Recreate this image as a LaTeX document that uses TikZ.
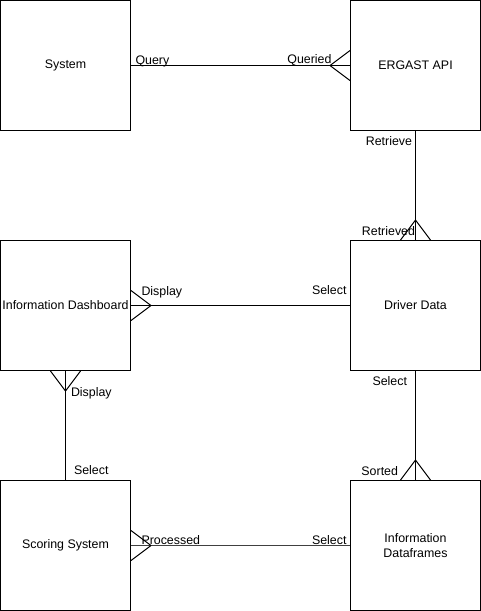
\documentclass[tikz,border=0pt]{standalone}
\usepackage{fontspec}
\setmainfont{Liberation Sans}
\usetikzlibrary{calc,positioning}

\tikzset{
    entity/.style={draw,minimum width=130pt,minimum height=130pt,inner sep=0pt,align=center,font=\fontsize{12.4}{14.5}\selectfont},
    lbl/.style={font=\fontsize{12.4}{14.5}\selectfont,inner sep=1pt},
    rel/.style={line width=1pt}
}

\begin{document}
\begin{tikzpicture}[x=1pt,y=-1pt,line width=1pt]
    \useasboundingbox (0,0) rectangle (481,611);
    \node[entity] (sys) at (65.5,65.5) {System};
    \node[entity] (api) at (415.5,65.5) {ERGAST API};
    \node[entity] (dash) at (65.5,305.5) {Information Dashboard};
    \node[entity] (drv) at (415.5,305.5) {Driver Data};
    \node[entity] (score) at (65.5,545.5) {Scoring System};
    \node[entity] (frames) at (415.5,545.5) {Information\\Dataframes};
    % relations
    \draw[rel] (sys.east) -- (api.west);
    \draw (api.west) ++(-20,0) coordinate (f1) -- ++(20,-15) (f1) -- ++(20,15);
    \draw[rel] (api.south) -- (drv.north);
    \draw (drv.north) ++(0,-20) coordinate (f2) -- ++(-15,20) (f2) -- ++(15,20);
    \draw[rel] (dash.east) -- (drv.west);
    \draw (dash.east) ++(20,0) coordinate (f3) -- ++(-20,-15) (f3) -- ++(-20,15);
    \draw[rel] (dash.south) -- (score.north);
    \draw (dash.south) ++(0,20) coordinate (f4) -- ++(-15,-20) (f4) -- ++(15,-20);
    \draw[rel] (drv.south) -- (frames.north);
    \draw (frames.north) ++(0,-20) coordinate (f5) -- ++(-15,20) (f5) -- ++(15,20);
    \draw[rel,line width=1.5pt,black!75] (score.east) -- (frames.west);
    \draw (score.east) ++(20,0) coordinate (f6) -- ++(-20,-15) (f6) -- ++(-20,15);
    % labels
    \node[lbl,anchor=south west] (l1) at ($(sys.east)+(3,3)$) {Query};
    \node[lbl,anchor=south east] (l2) at ($(api.west)+(-17,2)$) {Queried};
    \node[lbl,anchor=north east] (l3) at ($(api.south)+(-2,4)$) {Retrieve};
    \node[lbl,anchor=south east] (l4) at ($(drv.north)+(1,-3)$) {Retrieved};
    \node[lbl,anchor=south west] (l5) at ($(dash.east)+(9,-6)$) {Display};
    \node[lbl,anchor=south east] (l6) at ($(drv.west)+(-2,-9)$) {Select};
    \node[lbl,anchor=north west] (l7) at ($(dash.south)+(4,15)$) {Display};
    \node[lbl,anchor=south west] (l8) at ($(score.north)+(7,-4)$) {Select};
    \node[lbl,anchor=north east] (l9) at ($(drv.south)+(-7,4)$) {Select};
    \node[lbl,anchor=south east] (l10) at ($(frames.north)+(-16,-3)$) {Sorted};
    \node[lbl,anchor=south west] (l11) at ($(score.east)+(9,1)$) {Processed};
    \node[lbl,anchor=south east] (l12) at ($(frames.west)+(-2,1)$) {Select};
\end{tikzpicture}
\end{document}
